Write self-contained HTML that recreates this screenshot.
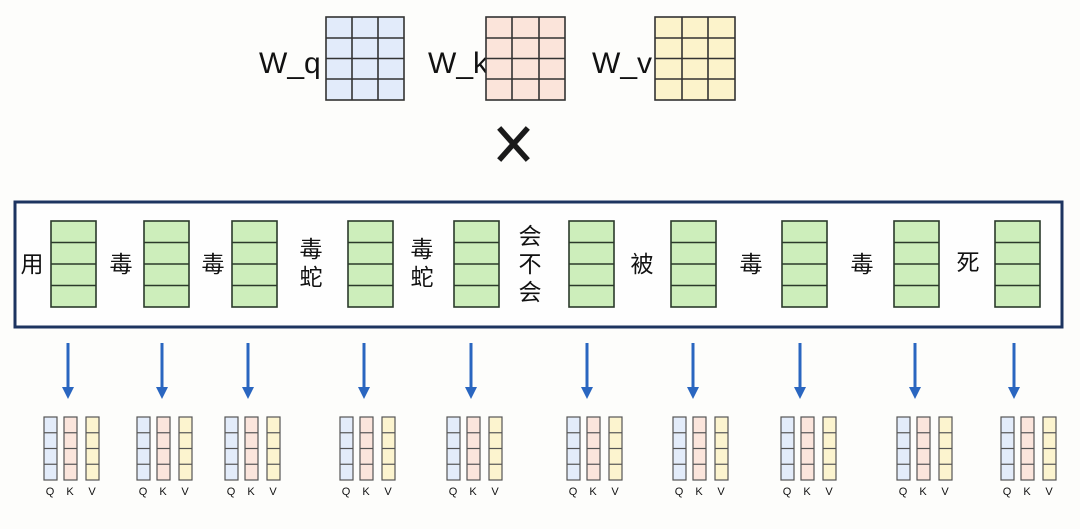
<!DOCTYPE html>
<html><head><meta charset="utf-8"><style>
html,body{margin:0;padding:0;background:#fdfdfb;}
svg{display:block;}
text{font-family:"Liberation Sans","Noto Sans CJK SC",sans-serif;fill:#111;}
</style></head><body>
<svg width="1080" height="529" viewBox="0 0 1080 529" xmlns="http://www.w3.org/2000/svg">
<defs>
<g id="green">
  <rect x="0" y="0" width="45" height="86" fill="#cdeebb" stroke="#2b3a2b" stroke-width="1.6"/>
  <line x1="0" y1="21.5" x2="45" y2="21.5" stroke="#2b3a2b" stroke-width="1.6"/>
  <line x1="0" y1="43" x2="45" y2="43" stroke="#2b3a2b" stroke-width="1.6"/>
  <line x1="0" y1="64.5" x2="45" y2="64.5" stroke="#2b3a2b" stroke-width="1.6"/>
</g>
<g id="col">
  <rect x="0" y="0" width="13" height="63" stroke="#555" stroke-width="1.2"/>
  <line x1="0" y1="15.75" x2="13" y2="15.75" stroke="#555" stroke-width="1.2"/>
  <line x1="0" y1="31.5" x2="13" y2="31.5" stroke="#555" stroke-width="1.2"/>
  <line x1="0" y1="47.25" x2="13" y2="47.25" stroke="#555" stroke-width="1.2"/>
</g>
<g id="qkv">
  <use href="#col" x="0" y="0" fill="#e3ecfa"/>
  <use href="#col" x="20" y="0" fill="#fbe5dc"/>
  <use href="#col" x="42" y="0" fill="#fcf4cf"/>
</g>
<g id="arrow">
  <line x1="0" y1="0" x2="0" y2="46" stroke="#2a66c0" stroke-width="3"/>
  <polygon points="-6,44 6,44 0,56" fill="#2a66c0"/>
</g>
</defs>

<!-- Top matrices -->
<text x="259" y="73" font-size="30">W_q</text>
<g stroke="#333" stroke-width="1.6" fill="#e2ebfa">
  <rect x="326" y="17" width="78" height="83"/>
  <line x1="352" y1="17" x2="352" y2="100"/><line x1="378" y1="17" x2="378" y2="100"/>
  <line x1="326" y1="38" x2="404" y2="38"/><line x1="326" y1="58.5" x2="404" y2="58.5"/><line x1="326" y1="79" x2="404" y2="79"/>
</g>
<text x="428" y="73" font-size="30">W_k</text>
<g stroke="#333" stroke-width="1.6" fill="#fbe4da">
  <rect x="486" y="17" width="79" height="83"/>
  <line x1="512" y1="17" x2="512" y2="100"/><line x1="539" y1="17" x2="539" y2="100"/>
  <line x1="486" y1="38" x2="565" y2="38"/><line x1="486" y1="58.5" x2="565" y2="58.5"/><line x1="486" y1="79" x2="565" y2="79"/>
</g>
<text x="592" y="73" font-size="30">W_v</text>
<g stroke="#333" stroke-width="1.6" fill="#fcf3cb">
  <rect x="655" y="17" width="80" height="83"/>
  <line x1="682" y1="17" x2="682" y2="100"/><line x1="708" y1="17" x2="708" y2="100"/>
  <line x1="655" y1="38" x2="735" y2="38"/><line x1="655" y1="58.5" x2="735" y2="58.5"/><line x1="655" y1="79" x2="735" y2="79"/>
</g>
<!-- X -->
<g stroke="#1a1a1a" stroke-width="5.5" stroke-linecap="square">
  <line x1="501" y1="130" x2="526" y2="158"/><line x1="526" y1="130" x2="501" y2="158"/>
</g>

<!-- Main box -->
<rect x="15" y="202" width="1047" height="125" fill="#fefefe" stroke="#1d3460" stroke-width="3"/>

<use href="#green" x="51" y="221"/>
<use href="#green" x="144" y="221"/>
<use href="#green" x="232" y="221"/>
<use href="#green" x="348" y="221"/>
<use href="#green" x="454" y="221"/>
<use href="#green" x="569" y="221"/>
<use href="#green" x="671" y="221"/>
<use href="#green" x="782" y="221"/>
<use href="#green" x="894" y="221"/>
<use href="#green" x="995" y="221"/>

<g font-size="23" text-anchor="middle">
<text x="32" y="272">用</text>
<text x="121" y="272">毒</text>
<text x="213" y="272">毒</text>
<text x="311" y="257">毒</text><text x="311" y="285">蛇</text>
<text x="422" y="257">毒</text><text x="422" y="285">蛇</text>
<text x="530" y="244">会</text><text x="530" y="272">不</text><text x="530" y="300">会</text>
<text x="642" y="272">被</text>
<text x="751" y="272">毒</text>
<text x="862" y="272">毒</text>
<text x="968" y="270">死</text>
</g>

<!-- arrows -->
<use href="#arrow" x="68" y="343"/>
<use href="#arrow" x="162" y="343"/>
<use href="#arrow" x="248" y="343"/>
<use href="#arrow" x="364" y="343"/>
<use href="#arrow" x="471" y="343"/>
<use href="#arrow" x="587" y="343"/>
<use href="#arrow" x="693" y="343"/>
<use href="#arrow" x="800" y="343"/>
<use href="#arrow" x="915" y="343"/>
<use href="#arrow" x="1014" y="343"/>

<!-- qkv groups -->
<g font-size="11" fill="#444" text-anchor="middle">
<use href="#qkv" x="44" y="417"/>
<use href="#qkv" x="137" y="417"/>
<use href="#qkv" x="225" y="417"/>
<use href="#qkv" x="340" y="417"/>
<use href="#qkv" x="447" y="417"/>
<use href="#qkv" x="567" y="417"/>
<use href="#qkv" x="673" y="417"/>
<use href="#qkv" x="781" y="417"/>
<use href="#qkv" x="897" y="417"/>
<use href="#qkv" x="1001" y="417"/>
</g>
<g font-size="11" text-anchor="middle" style="fill:#444">
<text x="50" y="495">Q</text><text x="70" y="495">K</text><text x="92" y="495">V</text>
<text x="143" y="495">Q</text><text x="163" y="495">K</text><text x="185" y="495">V</text>
<text x="231" y="495">Q</text><text x="251" y="495">K</text><text x="273" y="495">V</text>
<text x="346" y="495">Q</text><text x="366" y="495">K</text><text x="388" y="495">V</text>
<text x="453" y="495">Q</text><text x="473" y="495">K</text><text x="495" y="495">V</text>
<text x="573" y="495">Q</text><text x="593" y="495">K</text><text x="615" y="495">V</text>
<text x="679" y="495">Q</text><text x="699" y="495">K</text><text x="721" y="495">V</text>
<text x="787" y="495">Q</text><text x="807" y="495">K</text><text x="829" y="495">V</text>
<text x="903" y="495">Q</text><text x="923" y="495">K</text><text x="945" y="495">V</text>
<text x="1007" y="495">Q</text><text x="1027" y="495">K</text><text x="1049" y="495">V</text>
</g>
</svg>
</body></html>
